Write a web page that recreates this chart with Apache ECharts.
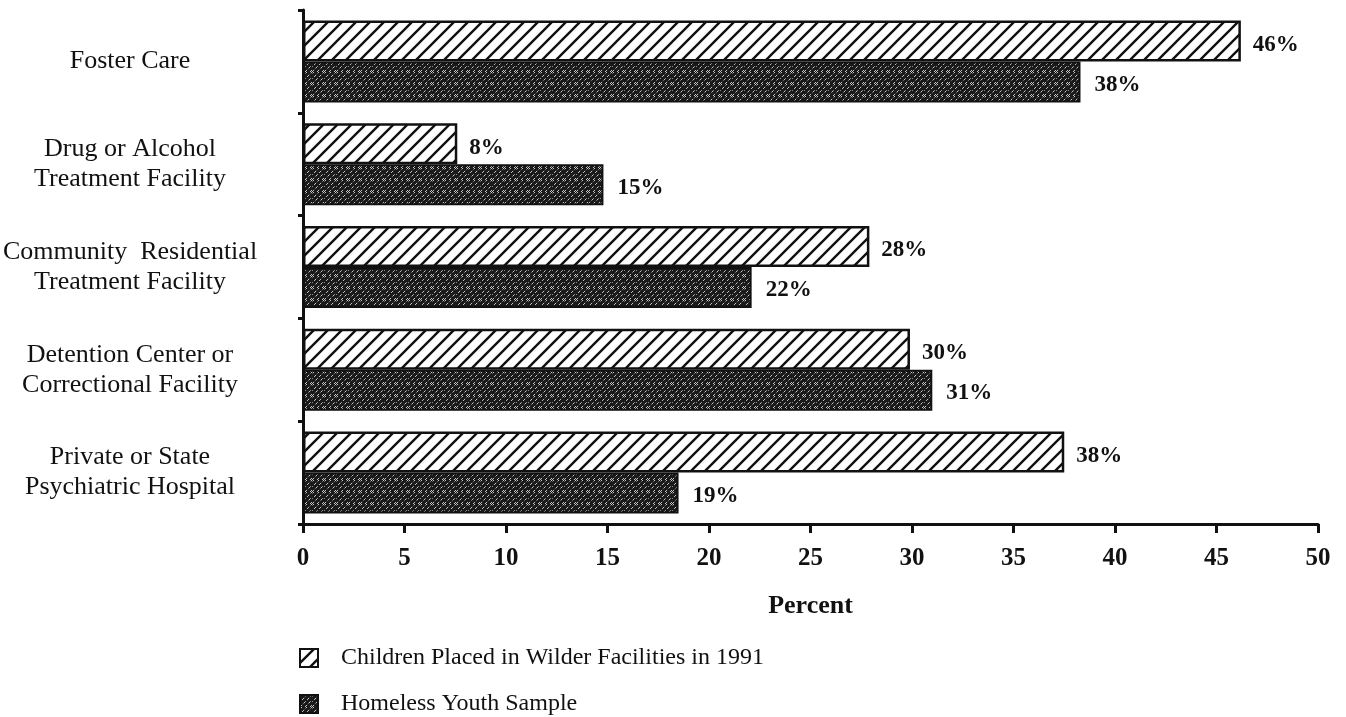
<!DOCTYPE html>
<html>
<head>
<meta charset="utf-8">
<script src="https://cdn.jsdelivr.net/npm/echarts@6/dist/echarts.min.js"></script>
<style>
  html, body { margin: 0; padding: 0; background: #fff; }
  #chart { width: 1346px; height: 717px; }
</style>
</head>
<body>
<div id="chart"></div>
<script>
// categories, top to bottom as printed
var categories = [
  'Foster Care',
  'Drug or Alcohol\nTreatment Facility',
  'Community  Residential\nTreatment Facility',
  'Detention Center or\nCorrectional Facility',
  'Private or State\nPsychiatric Hospital'
];
var seriesNames = ['Children Placed in Wilder Facilities in 1991', 'Homeless Youth Sample'];
// bar lengths
var wilderValues = [46.2, 7.6, 27.9, 29.9, 37.5];
var homelessValues = [38.3, 14.8, 22.1, 31.0, 18.5];
// labels as printed beside the bars
var wilderLabels = ['46%', '8%', '28%', '30%', '38%'];
var homelessLabels = ['38%', '15%', '22%', '31%', '19%'];
var xTicks = [0, 50, 5];

var serif = 'Liberation Serif';

// white with black diagonal hatching
function hatchWhite() {
  var c = document.createElement('canvas');
  c.width = 14; c.height = 14;
  var g = c.getContext('2d');
  g.fillStyle = '#fff';
  g.fillRect(0, 0, 14, 14);
  g.strokeStyle = '#111';
  g.lineWidth = 2.4;
  g.beginPath();
  for (var k = -1; k <= 1; k++) {
    g.moveTo(k * 14 - 2, 16);
    g.lineTo(k * 14 + 16, -2);
  }
  g.stroke();
  return c;
}

// black with fine broken white diagonals
function hatchDark() {
  var c = document.createElement('canvas');
  c.width = 12; c.height = 12;
  var g = c.getContext('2d');
  g.fillStyle = '#1a1a1a';
  g.fillRect(0, 0, 12, 12);
  g.strokeStyle = 'rgba(255,255,255,0.85)';
  g.lineWidth = 0.9;
  g.setLineDash([3, 2]);
  g.beginPath();
  for (var k = -2; k <= 2; k++) {
    g.moveTo(k * 5, 12);
    g.lineTo(k * 5 + 12, 0);
  }
  g.stroke();
  return c;
}

var chart = echarts.init(document.getElementById('chart'));

var rev = function (a) { return a.slice().reverse(); };

var legendBase = {
  orient: 'vertical',
  left: 299,
  padding: 0,
  itemWidth: 18,
  itemHeight: 18,
  icon: 'rect',
  textStyle: { fontFamily: serif, fontSize: 24, color: '#111', padding: [0, 0, 0, 18] }
};

var option = {
  animation: false,
  backgroundColor: '#fff',
  grid: { left: 303, right: 28, top: 10, bottom: 193, outerBoundsMode: 'none', containLabel: false },
  xAxis: {
    type: 'value',
    min: xTicks[0],
    max: xTicks[1],
    interval: xTicks[2],
    name: 'Percent',
    nameLocation: 'middle',
    nameGap: 69,
    nameTextStyle: { fontFamily: serif, fontSize: 26, fontWeight: 'bold', color: '#111' },
    splitLine: { show: false },
    axisLine: { show: true, lineStyle: { color: '#111', width: 3 } },
    axisTick: { show: true, length: 9, lineStyle: { color: '#111', width: 3 } },
    axisLabel: { fontFamily: serif, fontSize: 25, fontWeight: 'bold', color: '#111', margin: 22 }
  },
  yAxis: {
    type: 'category',
    data: rev(categories),
    axisLine: { show: true, lineStyle: { color: '#111', width: 3 } },
    axisTick: { show: true, length: 5, lineStyle: { color: '#111', width: 3 } },
    axisLabel: {
      fontFamily: serif, fontSize: 26, color: '#111',
      align: 'center', margin: 173, lineHeight: 30
    }
  },
  legend: [
    Object.assign({}, legendBase, { top: 646, data: [seriesNames[0]] }),
    Object.assign({}, legendBase, { top: 692, data: [seriesNames[1]] })
  ],
  series: [
    {
      name: seriesNames[0],
      type: 'bar',
      data: rev(wilderValues),
      barWidth: 41,
      barGap: '0%',
      itemStyle: {
        color: { image: hatchWhite(), repeat: 'repeat' },
        borderColor: '#111',
        borderWidth: 2.5
      },
      label: {
        show: true,
        position: 'right',
        distance: 12,
        offset: [0, 4],
        fontFamily: serif, fontSize: 23, fontWeight: 'bold', color: '#111',
        formatter: function (p) { return rev(wilderLabels)[p.dataIndex]; }
      }
    },
    {
      name: seriesNames[1],
      type: 'bar',
      data: rev(homelessValues),
      barWidth: 41,
      itemStyle: {
        color: { image: hatchDark(), repeat: 'repeat' },
        borderColor: '#111',
        borderWidth: 2
      },
      label: {
        show: true,
        position: 'right',
        distance: 14,
        offset: [0, 3],
        fontFamily: serif, fontSize: 23, fontWeight: 'bold', color: '#111',
        formatter: function (p) { return rev(homelessLabels)[p.dataIndex]; }
      }
    }
  ]
};

chart.setOption(option);
</script>
</body>
</html>
